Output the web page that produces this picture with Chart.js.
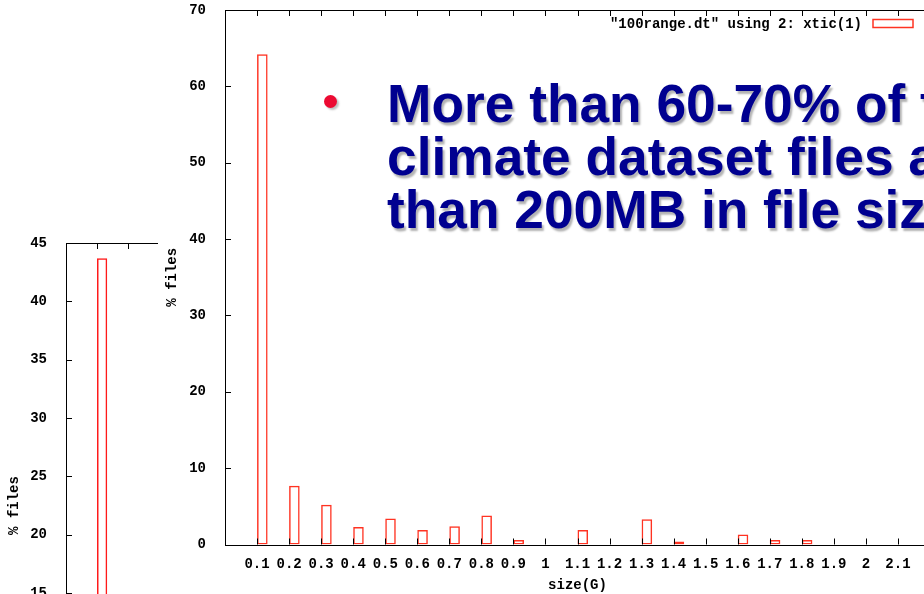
<!DOCTYPE html>
<html>
<head>
<meta charset="utf-8">
<script src="https://cdn.jsdelivr.net/npm/chart.js@4/dist/chart.umd.min.js"></script>
<style>
  html, body { margin: 0; padding: 0; width: 924px; height: 594px; overflow: hidden; background: #fff; }
  body { position: relative; }
  #leftChart { position: absolute; left: 0; top: 0; }
  #mainChart { position: absolute; left: 158px; top: 0; background: #fff; }
  .bullet {
    position: absolute; left: 324px; top: 95px; width: 13px; height: 13px; border-radius: 50%;
    background: #ec0a32; box-shadow: 2px 2px 2px rgba(0,0,0,0.25);
  }
  .point {
    position: absolute; left: 387px; top: 77px; white-space: nowrap;
    font: bold 53.3px/53px "Liberation Sans", Arial, sans-serif; color: #000090;
    text-shadow: 2px 3px 2px rgba(0,0,0,0.3);
  }
</style>
</head>
<body>
<canvas id="leftChart" width="200" height="800"></canvas>
<canvas id="mainChart" width="780" height="594"></canvas>
<div class="bullet"></div>
<div class="point">More than 60-70% of the<br>climate dataset files are<br>than 200MB in file size</div>
<script>
(function () {
  // main histogram: 100MB buckets
  const sizeLabels = ['0.1', '0.2', '0.3', '0.4', '0.5', '0.6', '0.7', '0.8', '0.9', '1',
    '1.1', '1.2', '1.3', '1.4', '1.5', '1.6', '1.7', '1.8', '1.9', '2', '2.1'];
  const filePercent = [64.2, 7.7, 5.2, 2.3, 3.4, 1.9, 2.4, 3.8, 0.6, 0,
    1.9, 0, 3.3, 0.4, 0, 1.3, 0.6, 0.6, 0, 0, 0];
  const mainYTicks = [0, 10, 20, 30, 40, 50, 60, 70];

  // partly hidden chart behind it
  const leftLabels = ['0.1', '0.2', '0.3'];
  const leftPercent = [43.7];
  const leftYTicks = [0, 5, 10, 15, 20, 25, 30, 35, 40, 45];

  const legendText = '"100range.dt" using 2: xtic(1)';
  const gnuFont = { family: '"Liberation Mono", "DejaVu Sans Mono", monospace', size: 14, weight: 'bold' };

  // gnuplot look: full border, inward ticks, key at top right
  const gnuFrame = {
    id: 'gnuFrame',
    afterDatasetsDraw(chart, args, opts) {
      const { ctx, chartArea: a, scales: { x, y } } = chart;
      ctx.save();
      ctx.strokeStyle = '#000';
      ctx.lineWidth = 1;
      ctx.beginPath();
      x.ticks.forEach((t, i) => {
        const px = Math.round(x.getPixelForTick(i)) + 0.5;
        ctx.moveTo(px, a.top); ctx.lineTo(px, a.top + 6);
        ctx.moveTo(px, a.bottom); ctx.lineTo(px, a.bottom - 6);
      });
      y.ticks.forEach((t, i) => {
        const py = Math.round(y.getPixelForTick(i)) + 0.5;
        ctx.moveTo(a.left, py); ctx.lineTo(a.left + 6, py);
        ctx.moveTo(a.right, py); ctx.lineTo(a.right - 6, py);
      });
      ctx.stroke();
      ctx.strokeRect(Math.round(a.left) + 0.5, Math.round(a.top) + 0.5,
        Math.round(a.right - a.left), Math.round(a.bottom - a.top));
      if (opts.legend) {
        ctx.font = 'bold 14px "Liberation Mono", "DejaVu Sans Mono", monospace';
        ctx.fillStyle = '#000';
        ctx.textAlign = 'right';
        ctx.textBaseline = 'middle';
        ctx.fillText(opts.legend, a.right - 68, a.top + 14);
        ctx.strokeStyle = opts.color;
        ctx.lineWidth = 1.5;
        ctx.strokeRect(a.right - 57, a.top + 9.5, 40, 8);
      }
      ctx.restore();
    }
  };

  function makeChart(id, labels, values, yTicks, opt) {
    const el = document.getElementById(id);
    return new Chart(el.getContext('2d'), {
      type: 'bar',
      data: {
        labels: [''].concat(labels, ['']),
        datasets: [
          { label: '', data: [] }, // empty slot so the box sits right of its tick
          {
            label: legendText,
            data: [null].concat(values),
            backgroundColor: 'rgba(0,0,0,0)',
            borderColor: opt.color,
            borderWidth: 1.5,
            borderSkipped: false
          }
        ]
      },
      options: {
        responsive: false,
        animation: false,
        events: [],
        categoryPercentage: 0.66,
        barPercentage: 1,
        layout: { padding: opt.padding },
        plugins: {
          legend: { display: false },
          tooltip: { enabled: false },
          gnuFrame: { legend: opt.legend, color: opt.color }
        },
        scales: {
          x: {
            type: 'category',
            offset: false,
            grid: { display: false },
            border: { display: false },
            ticks: { color: '#000', font: gnuFont, autoSkip: false, maxRotation: 0, padding: 4 },
            title: { display: !!opt.xTitle, text: opt.xTitle, color: '#000', font: gnuFont, padding: { top: 0, bottom: 0 } },
            afterFit: s => { s.height = opt.xHeight; s.paddingLeft = 0; s.paddingRight = 0; }
          },
          y: {
            min: yTicks[0],
            max: yTicks[yTicks.length - 1],
            grid: { display: false },
            border: { display: false },
            afterBuildTicks: s => { s.ticks = yTicks.map(v => ({ value: v })); },
            ticks: { color: '#000', font: gnuFont, padding: 11 },
            title: { display: true, text: '% files', color: '#000', font: gnuFont, padding: { top: opt.yTitlePad, bottom: 0 } },
            afterFit: s => { s.width = opt.yWidth; s.paddingTop = 0; s.paddingBottom = 0; }
          }
        }
      },
      plugins: [gnuFrame]
    });
  }

  if (window.Chart) {
    makeChart('leftChart', leftLabels, leftPercent, leftYTicks, {
      color: '#ff1a1a', padding: { top: 243, right: 10, left: 0, bottom: 0 },
      xHeight: 32, yWidth: 66, yTitlePad: 5.6
    });
    makeChart('mainChart', sizeLabels, filePercent, mainYTicks, {
      color: '#ff3322', legend: legendText, xTitle: 'size(G)',
      padding: { top: 10, right: 8, left: 0, bottom: 0 },
      xHeight: 49.5, yWidth: 67, yTitlePad: 6.3
    });
  }
})();
</script>
</body>
</html>
